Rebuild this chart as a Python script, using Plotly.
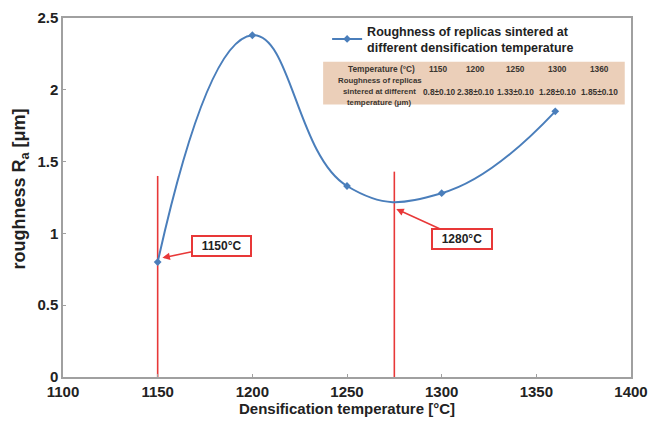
import plotly.graph_objects as go

temps = [1150, 1200, 1250, 1300, 1360]
roughness = [0.80, 2.38, 1.33, 1.28, 1.85]
table_header = "Temperature (°C)"
table_row_label = ["Roughness of replicas", "sintered at different", "temperature (μm)"]
table_values = ["0.8±0.10", "2.38±0.10", "1.33±0.10", "1.28±0.10", "1.85±0.10"]
marker_temps = [1150, 1275]
marker_tops = [1.40, 1.43]
callouts = [("1150°C", 1152.5, 0.83, 59, -12), ("1280°C", 1276, 1.17, 66, 30)]

blue = "#4a7ebb"
red = "#e83838"
font = "Liberation Sans, Arial, sans-serif"
tcol = "#3a3530"

fig = go.Figure()
for t, top in zip(marker_temps, marker_tops):
    fig.add_trace(go.Scatter(x=[t, t], y=[0, top], mode="lines",
                             line=dict(color=red, width=1.6), showlegend=False, hoverinfo="skip"))
fig.add_trace(go.Scatter(
    x=temps, y=roughness, mode="lines+markers",
    line=dict(color=blue, width=2, shape="spline", smoothing=1.3),
    marker=dict(symbol="diamond", size=6, color=blue),
    name="<b>Roughness of replicas sintered at<br>different densification temperature</b>",
))

# table background
fig.add_shape(type="rect", xref="paper", yref="paper", x0=0.458, x1=0.989, y0=0.759, y1=0.878,
              fillcolor="#ebcfb9", line=dict(width=0), layer="below")

def tnote(x, y, text, size=8.3):
    fig.add_annotation(xref="paper", yref="paper", x=x, y=y, text=f"<b>{text}</b>", showarrow=False,
                       xanchor="center", yanchor="middle", borderpad=0,
                       font=dict(family=font, size=size, color=tcol))

tnote(0.561, 0.859, table_header)
for yy, line in zip([0.826, 0.794, 0.764], table_row_label):
    tnote(0.558, yy, line, size=7.8)
for cx, t, v in zip([0.660, 0.727, 0.796, 0.870, 0.945], temps, table_values):
    tnote(cx, 0.859, str(t))
    tnote(cx + (0.003 if t == 1150 else 0), 0.794, v)

for txt, x, y, ax, ay in callouts:
    fig.add_annotation(x=x, y=y, text=f"<b>&nbsp;&nbsp;{txt}&nbsp;&nbsp;</b>", showarrow=True, ax=ax, ay=ay,
                       arrowcolor=red, arrowwidth=1.5, arrowhead=2, arrowsize=1,
                       bordercolor=red, borderwidth=2, borderpad=2, bgcolor="white",
                       font=dict(family=font, size=12, color="#222"))

# y-axis title as a rotated annotation
fig.add_annotation(xref="paper", yref="paper", x=-0.074, y=0.525, textangle=-90,
                   text="<b>roughness R<sub>a</sub> [μm]</b>", showarrow=False,
                   xanchor="center", yanchor="middle",
                   font=dict(family=font, size=18, color="#222"))

# page body has an 8px margin, so the figure is offset by 8px
fig.update_layout(
    width=653, height=421,
    margin=dict(l=55, r=30, t=8, b=52),
    paper_bgcolor="white", plot_bgcolor="white",
    font=dict(family=font, size=15, color="#222"),
    legend=dict(x=0.465, y=1.005, xanchor="left", yanchor="top", bgcolor="rgba(0,0,0,0)",
                font=dict(family=font, size=12.5, color="#222")),
    xaxis=dict(range=[1100, 1400], dtick=50, showgrid=False, zeroline=False,
               showline=True, linecolor="#a0a0a0", linewidth=1.5, mirror=True,
               ticks="inside", ticklen=3, tickcolor="#a0a0a0", automargin="bottom",
               ticklabeloverflow="allow",
               tickfont=dict(family=font, size=15, color="#222"),
               tickprefix="<b>", ticksuffix="</b>",
               title=dict(text="<b>Densification temperature [°C]</b>", standoff=4,
                          font=dict(family=font, size=15, color="#222"))),
    yaxis=dict(range=[0, 2.5], dtick=0.5, showgrid=False, zeroline=False,
               showline=True, linecolor="#a0a0a0", linewidth=1.5, mirror=True,
               ticks="inside", ticklen=3, tickcolor="#a0a0a0", automargin=False,
               ticklabeloverflow="allow",
               tickfont=dict(family=font, size=15, color="#222"),
               tickprefix="<b>", ticksuffix="</b>"),
)
fig.write_html("out.html")
